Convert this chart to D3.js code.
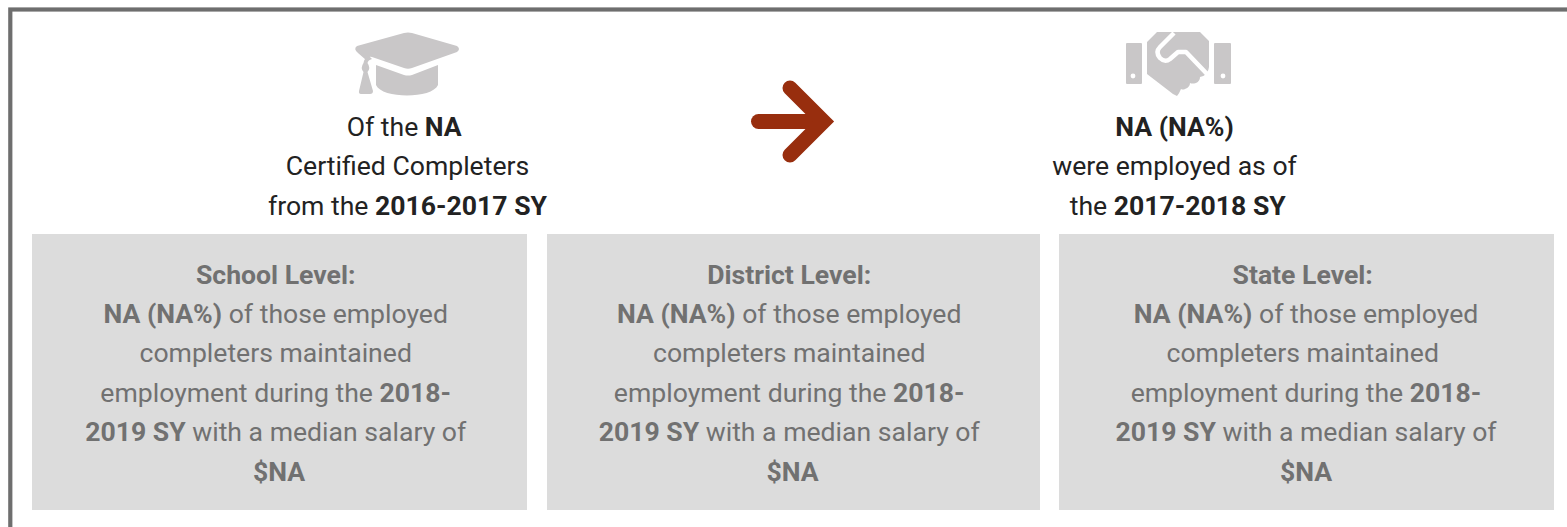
<!DOCTYPE html>
<html>
<head>
<meta charset="utf-8">
<script src="https://cdn.jsdelivr.net/npm/d3@7"></script>
<style>
  html, body { margin: 0; padding: 0; background: #fff; overflow: hidden; }
  text { font-family: Roboto, sans-serif; font-size: 26.6px; white-space: pre; }
  tspan.b { font-weight: 700; }
</style>
</head>
<body>
<script>
// Text blocks, one array per line, each piece [text, bold].
// Trailing and leading spaces are part of the source text, they shift the centred lines.
const completerLines = [
    [["Of the ", 0], ["NA", 1], [" ", 0]],
    [["Certified Completers", 0]],
    [["from the ", 0], ["2016-2017 SY", 1]]
];
const employedLines = [
    [["NA (NA%)", 1]],
    [["were employed as of", 0]],
    [[" the ", 0], ["2017-2018 SY", 1]]
];
const schoolLines = [
    [["School Level: ", 1]],
    [["NA (NA%)", 1], [" of those employed ", 0]],
    [["completers maintained ", 0]],
    [["employment during the ", 0], ["2018- ", 1]],
    [["2019 SY", 1], [" with a median salary of ", 0]],
    [["$NA", 1]]
];
const districtLines = [
    [["District Level: ", 1]],
    [["NA (NA%)", 1], [" of those employed ", 0]],
    [["completers maintained ", 0]],
    [["employment during the ", 0], ["2018- ", 1]],
    [["2019 SY", 1], [" with a median salary of ", 0]],
    [["$NA", 1]]
];
const stateLines = [
    [["State Level: ", 1]],
    [["NA (NA%)", 1], [" of those employed", 0]],
    [["completers maintained ", 0]],
    [["employment during the ", 0], ["2018-", 1]],
    [["2019 SY", 1], [" with a median salary of", 0]],
    [["$NA", 1]]
];

const width = 1567, height = 527;
const svg = d3.select("body").append("svg")
    .attr("width", width)
    .attr("height", height)
    .style("display", "block");

// outer frame, bottom and right run off the page
svg.append("rect")
    .attr("x", 10.3).attr("y", 9.5)
    .attr("width", 1600).attr("height", 600)
    .attr("fill", "none")
    .attr("stroke", "#6e6e6e")
    .attr("stroke-width", 4.2);

function writeLines(g, lines, cx, y0, step, color) {
    const t = g.append("text")
        .attr("text-anchor", "middle")
        .attr("fill", color);
    lines.forEach((line, i) => {
        line.forEach((piece, j) => {
            const s = t.append("tspan")
                .classed("b", piece[1] === 1)
                .text(piece[0]);
            if (j === 0) s.attr("x", cx).attr("y", y0 + i * step);
        });
    });
}

writeLines(svg.append("g"), completerLines, 407.5, 135.6, 39.5, "#222");
writeLines(svg.append("g"), employedLines, 1174.5, 135.6, 39.5, "#222");

// grey boxes
const boxes = [
    { x: 32, w: 495, cx: 279, lines: schoolLines },
    { x: 547, w: 493, cx: 792.5, lines: districtLines },
    { x: 1059, w: 495, cx: 1306, lines: stateLines }
];
boxes.forEach(b => {
    svg.append("rect")
        .attr("x", b.x).attr("y", 234)
        .attr("width", b.w).attr("height", 276)
        .attr("fill", "#dcdcdc");
    writeLines(svg.append("g"), b.lines, b.cx, 283.6, 39.4, "#717171");
});

// arrow: shaft and head drawn apart so the join stays a plain corner
const arrow = svg.append("g")
    .attr("fill", "none")
    .attr("stroke", "#982e0e")
    .attr("stroke-width", 15)
    .attr("stroke-linecap", "round");
arrow.append("path").attr("d", "M758.5 121.5H818");
arrow.append("path")
    .attr("d", "M790 88L823.5 121.5L790 155")
    .attr("stroke-linejoin", "miter");

// graduation cap
const cap = svg.append("g").attr("fill", "#c9c7c8");
cap.append("path")
    .attr("d", "M357 46L404 33Q408 32 412 33L457 46Q461 49 457 52L412 68Q408 69.5 404 68L372 57Q368 56 366 60L358 53Q353 49 357 46Z");
cap.append("path")
    .attr("d", "M376 65L404 75Q408 76 412 75L438 65V85C432 99 382 99 376 85Z");
// tassel
cap.append("path")
    .attr("d", "M369 56L372 59Q368 60 367.5 63Q371 68 367.5 72L373 91Q373 94 370 94H361Q358.5 94 359 91L363.5 72Q360 68 363.5 63Q364 58 369 56Z");

// handshake
const hands = svg.append("g").attr("fill", "#c9c7c8");
hands.append("rect").attr("x", 1126).attr("y", 43).attr("width", 16).attr("height", 41).attr("rx", 1);
hands.append("rect").attr("x", 1214).attr("y", 43).attr("width", 17).attr("height", 41).attr("rx", 1);
hands.append("path")
    .attr("d", "M1147 42L1157 32H1200L1209 41V67Q1209 70 1206 74Q1203 77 1200 77Q1200 81 1196 83Q1192 84 1190 83Q1190 87 1185 89Q1183 90 1181 89Q1179 94 1177 96L1173 94L1147 74Z");
// holes and the line between the two hands
svg.append("circle").attr("cx", 1133).attr("cy", 76).attr("r", 2.4).attr("fill", "#fff");
svg.append("circle").attr("cx", 1223).attr("cy", 76).attr("r", 2.4).attr("fill", "#fff");
svg.append("path")
    .attr("d", "M1174 33L1160 47Q1155 52 1160 58Q1165 63 1170 59L1178 52H1186L1208 75")
    .attr("fill", "none")
    .attr("stroke", "#fff")
    .attr("stroke-width", 4.5)
    .attr("stroke-linejoin", "round");
</script>
</body>
</html>
